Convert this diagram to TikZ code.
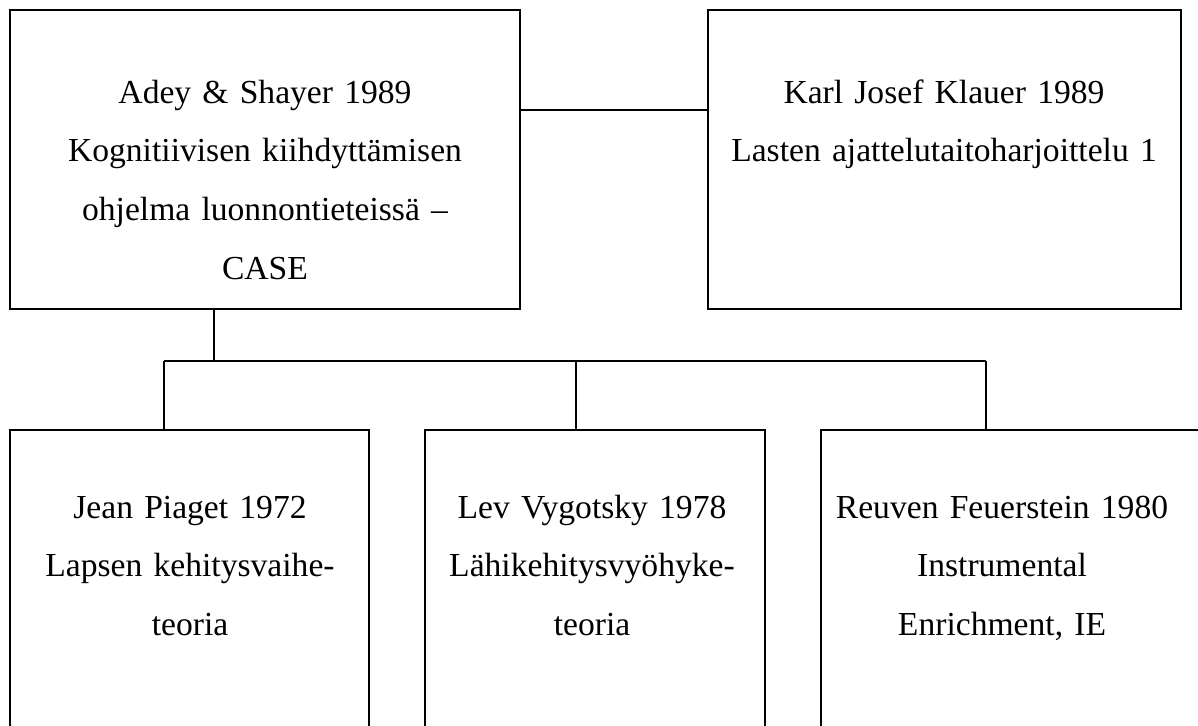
\documentclass[tikz,border=0pt]{standalone}
\usepackage{fontspec}
\setmainfont{Liberation Serif}
\usepackage{tikz}
\usetikzlibrary{fit,calc}

\begin{document}
\begin{tikzpicture}[x=0.375pt,y=-0.375pt]
\tikzstyle{box}=[rectangle, draw=black, line width=0.75pt, inner sep=0pt]
\tikzstyle{txt}=[align=center, inner sep=0pt, anchor=base, font=\fontsize{12.6}{22.1}\selectfont]
\tikzstyle{wide}=[txt, text width=185pt]
\tikzstyle{narrow}=[txt, text width=130pt]
\tikzstyle{connect}=[line width=0.75pt]

  \useasboundingbox (0,0) rectangle (1198,725);
  \clip (0,0) rectangle (1198,725);

  % boxes
  \node[box, fit={(10,10) (520,309)}]   (adey)       {};
  \node[box, fit={(708,10) (1181,309)}] (klauer)     {};
  \node[box, fit={(10,430) (369,760)}]  (piaget)     {};
  \node[box, fit={(425,430) (765,760)}] (vygotsky)   {};
  \node[box, fit={(821,430) (1210,760)}] (feuerstein) {};

  % texts
  \node[wide]   (adeytxt)   at (265,103)  {Adey \& Shayer 1989\\Kognitiivisen kiihdyttämisen\\ohjelma luonnontieteissä –\\CASE};
  \node[wide]   (klauertxt) at (944,103)  {Karl Josef Klauer 1989\\Lasten ajattelutaitoharjoittelu 1};
  \node[narrow] (piagettxt) at (190,518)  {Jean Piaget 1972\\Lapsen kehitysvaihe-\\teoria};
  \node[narrow] (vygotxt)   at (592,518)  {Lev Vygotsky 1978\\Lähikehitysvyöhyke-\\teoria};
  \node[narrow] (feuertxt)  at (1002,518) {Reuven Feuerstein 1980\\Instrumental\\Enrichment, IE};

  % junctions
  \coordinate (link)  at (614,110);
  \coordinate (fork)  at (214,361);
  \coordinate (drop1) at (164,361);
  \coordinate (drop2) at (576,361);
  \coordinate (drop3) at (986,361);

  \path (adey.east |- link) edge [connect] (klauer.west |- link);
  \path (adey.south -| fork) edge [connect] (fork);
  \path (drop1) edge [connect] (drop3);
  \path (drop1) edge [connect] (drop1 |- piaget.north);
  \path (drop2) edge [connect] (drop2 |- vygotsky.north);
  \path (drop3) edge [connect] (drop3 |- feuerstein.north);

\end{tikzpicture}
\end{document}
